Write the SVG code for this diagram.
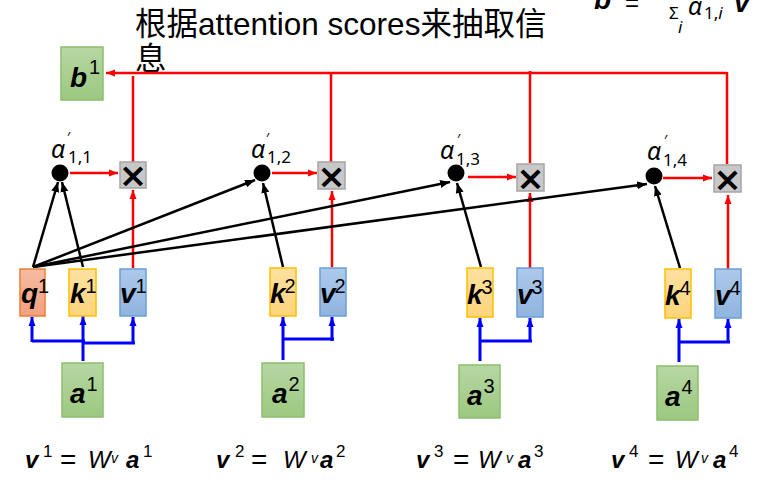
<svg xmlns="http://www.w3.org/2000/svg" width="762" height="485" viewBox="0 0 762 485">
<style>
.lbl{font-family:"Liberation Sans",Arial,sans-serif;font-weight:bold;font-style:italic;font-size:28px;fill:#000}
.sup{font-family:"Liberation Sans",Arial,sans-serif;font-weight:normal;font-style:normal;font-size:20px;fill:#000}
.eq{font-family:"Liberation Sans",Arial,sans-serif;font-size:24px;fill:#000}
.bi{font-weight:bold;font-style:italic}
.it{font-style:italic}
.al{font-family:"Noto Sans","DejaVu Sans",sans-serif;font-style:italic;font-size:25px;fill:#000}
.sub{font-family:"Noto Sans","DejaVu Sans",sans-serif;font-size:17px;fill:#000}
.pr{font-family:"Noto Sans","DejaVu Sans",sans-serif;font-size:14px;fill:#000}
.title{font-family:"Liberation Sans",Arial,"Noto Sans CJK SC",sans-serif;font-size:31.5px;fill:#000}
.mul{font-family:"DejaVu Sans",sans-serif;font-weight:bold;font-size:34px;fill:#000}
.gbox{fill:url(#gG);stroke:#8cbf6e;stroke-width:1.5}
.qbox{fill:url(#gQ);stroke:#ed7d31;stroke-width:1.5}
.kbox{fill:url(#gK);stroke:#ffc000;stroke-width:1.5}
.vbox{fill:url(#gV);stroke:#6a9fd4;stroke-width:1.5}
.xbox{fill:#c8c8c8;stroke:#a5a5a5;stroke-width:1.5}
.red{stroke:#ff0000;fill:none;stroke-width:2.5}
.blk{stroke:#000;fill:none;stroke-width:2.5}
.blu{stroke:#0000ff;fill:none;stroke-width:3}
</style>
<defs>
<linearGradient id="gG" x1="0" y1="0" x2="0" y2="1"><stop offset="0" stop-color="#b7d7a3"/><stop offset="1" stop-color="#9cc880"/></linearGradient>
<linearGradient id="gQ" x1="0" y1="0" x2="0" y2="1"><stop offset="0" stop-color="#f6bca3"/><stop offset="1" stop-color="#f2a07f"/></linearGradient>
<linearGradient id="gK" x1="0" y1="0" x2="0" y2="1"><stop offset="0" stop-color="#ffe1a0"/><stop offset="1" stop-color="#ffd47b"/></linearGradient>
<linearGradient id="gV" x1="0" y1="0" x2="0" y2="1"><stop offset="0" stop-color="#adc9ea"/><stop offset="1" stop-color="#90b4df"/></linearGradient>
<marker id="aR" markerUnits="userSpaceOnUse" markerWidth="10" markerHeight="8" refX="9" refY="4" orient="auto"><path d="M0,0.5 L9,4 L0,7.5 Z" fill="#ff0000"/></marker>
<marker id="aK" markerUnits="userSpaceOnUse" markerWidth="11" markerHeight="9" refX="10" refY="4.5" orient="auto"><path d="M0,0.5 L10,4.5 L0,8.5 Z" fill="#000"/></marker>
<marker id="aB" markerUnits="userSpaceOnUse" markerWidth="10" markerHeight="8" refX="9" refY="4" orient="auto"><path d="M0,0.5 L9,4 L0,7.5 Z" fill="#0000ff"/></marker>
</defs>

<rect width="762" height="485" fill="#fff"/>

<!-- title -->
<text class="title" x="135" y="35">根据attention scores来抽取信</text>
<text class="title" x="135" y="70">息</text>

<!-- top-right formula (cropped at the top edge) -->
<g id="formula">
<text class="lbl" x="594" y="9" font-size="26">b</text>
<text class="eq" x="625" y="11" font-size="28">=</text>
<text class="sub" x="669" y="19" font-size="22">Σ</text>
<text class="sub" x="678" y="33" font-size="15" font-style="italic">i</text>
<text class="al" x="688" y="15">α</text>
<text class="sub" x="704" y="19" font-size="18">1,<tspan font-style="italic">i</tspan></text>
<text class="lbl" x="734" y="12">v</text>
</g>

<!-- connectors -->
<g id="connectors">
<path class="red" d="M727,73 H106" marker-end="url(#aR)"/>
<path class="red" d="M133,162 V76" stroke-width="2.2"/>
<path class="red" d="M331,162 V72" stroke-width="3.5"/>
<path class="red" d="M530,163 V71" stroke-width="2.6"/>
<path class="red" d="M727,164 V72" stroke-width="2.8"/>
<path class="red" d="M70,173 H118" stroke-width="2.2" marker-end="url(#aR)"/>
<path class="red" d="M272,173 H317" stroke-width="2.2" marker-end="url(#aR)"/>
<path class="red" d="M468,177 H516" stroke-width="2.2" marker-end="url(#aR)"/>
<path class="red" d="M663,178 H712" stroke-width="2.2" marker-end="url(#aR)"/>
<path class="red" d="M133,268 V190" stroke-width="2.2" marker-end="url(#aR)"/>
<path class="red" d="M332,267 V191" stroke-width="2.2" marker-end="url(#aR)"/>
<path class="red" d="M530,268 V193" stroke-width="2.2" marker-end="url(#aR)"/>
<path class="red" d="M728,269 V195" stroke-width="2.2" marker-end="url(#aR)"/>
<path class="blk" d="M33,267 L58,182" marker-end="url(#aK)"/>
<path class="blk" d="M83,267 L62,182" marker-end="url(#aK)"/>
<path class="blk" d="M33,267 L255,180" marker-end="url(#aK)"/>
<path class="blk" d="M33,267 L450,182" marker-end="url(#aK)"/>
<path class="blk" d="M33,267 L647,184" marker-end="url(#aK)"/>
<path class="blk" d="M283,267 L263,183" marker-end="url(#aK)"/>
<path class="blk" d="M481,267 L457,183" marker-end="url(#aK)"/>
<path class="blk" d="M680,268 L655,186" marker-end="url(#aK)"/>
<path class="blu" d="M83,361 V316" marker-end="url(#aB)"/>
<path class="blu" d="M32,341 H85"/>
<path class="blu" d="M82,343 H135"/>
<path class="blu" d="M32,342 V317" marker-end="url(#aB)"/>
<path class="blu" d="M133,344 V317" marker-end="url(#aB)"/>
<path class="blu" d="M283,360 V317" marker-end="url(#aB)"/>
<path class="blu" d="M283,339 H334" stroke-width="4.5"/>
<path class="blu" d="M332,341 V317" marker-end="url(#aB)"/>
<path class="blu" d="M480,361 V318" marker-end="url(#aB)"/>
<path class="blu" d="M480,341 H532" stroke-width="3.5"/>
<path class="blu" d="M530,342 V318" marker-end="url(#aB)"/>
<path class="blu" d="M679,362 V319" marker-end="url(#aB)"/>
<path class="blu" d="M679,342 H730" stroke-width="3.5"/>
<path class="blu" d="M728,343 V319" marker-end="url(#aB)"/>
</g>

<g id="b1"><rect class="gbox" x="61" y="47" width="42" height="53"/><text class="lbl" x="70" y="87">b<tspan class="sup" dx="2" dy="-13">1</tspan></text></g>

<g id="q1"><rect class="qbox" x="20" y="269" width="25" height="47"/><text class="lbl" x="21" y="303">q<tspan class="sup" dx="0" dy="-10">1</tspan></text></g>
<g id="k1"><rect class="kbox" x="69" y="269" width="27" height="47"/><text class="lbl" x="70" y="303">k<tspan class="sup" dx="0" dy="-10">1</tspan></text></g>
<g id="v1"><rect class="vbox" x="120" y="269" width="26" height="47"/><text class="lbl" x="120" y="303">v<tspan class="sup" dx="0" dy="-10">1</tspan></text></g>
<g id="k2"><rect class="kbox" x="270" y="268" width="26" height="48"/><text class="lbl" x="270" y="303">k<tspan class="sup" dx="-1" dy="-10">2</tspan></text></g>
<g id="v2"><rect class="vbox" x="320" y="268" width="26" height="48"/><text class="lbl" x="320" y="303">v<tspan class="sup" dx="-1" dy="-10">2</tspan></text></g>
<g id="k3"><rect class="kbox" x="467" y="268" width="26" height="49"/><text class="lbl" x="467" y="304">k<tspan class="sup" dx="-1" dy="-10">3</tspan></text></g>
<g id="v3"><rect class="vbox" x="517" y="268" width="26" height="49"/><text class="lbl" x="517" y="304">v<tspan class="sup" dx="-1" dy="-10">3</tspan></text></g>
<g id="k4"><rect class="kbox" x="665" y="269" width="26" height="49"/><text class="lbl" x="665" y="305">k<tspan class="sup" dx="-1" dy="-10">4</tspan></text></g>
<g id="v4"><rect class="vbox" x="715" y="269" width="26" height="49"/><text class="lbl" x="715" y="305">v<tspan class="sup" dx="-1" dy="-10">4</tspan></text></g>

<g id="a1"><rect class="gbox" x="62" y="363" width="41" height="54"/><text class="lbl" x="70" y="403">a<tspan class="sup" dx="1" dy="-12">1</tspan></text></g>
<g id="a2"><rect class="gbox" x="262" y="363" width="42" height="54"/><text class="lbl" x="272" y="403">a<tspan class="sup" dx="1" dy="-12">2</tspan></text></g>
<g id="a3"><rect class="gbox" x="459" y="365" width="41" height="53"/><text class="lbl" x="467" y="405">a<tspan class="sup" dx="1" dy="-12">3</tspan></text></g>
<g id="a4"><rect class="gbox" x="657" y="366" width="41" height="54"/><text class="lbl" x="665" y="406">a<tspan class="sup" dx="1" dy="-12">4</tspan></text></g>

<g id="d1"><circle cx="60" cy="173" r="8.5"/><text class="al" x="51" y="158">α</text><text class="pr" x="67" y="142">′</text><text class="sub" x="68" y="163">1,1</text></g>
<g id="d2"><circle cx="262" cy="173" r="8.5"/><text class="al" x="251" y="158">α</text><text class="pr" x="266" y="143">′</text><text class="sub" x="267" y="163">1,2</text></g>
<g id="d3"><circle cx="456" cy="173" r="8.5"/><text class="al" x="440" y="159">α</text><text class="pr" x="457" y="144">′</text><text class="sub" x="456" y="165">1,3</text></g>
<g id="d4"><circle cx="654" cy="176" r="8.5"/><text class="al" x="647" y="160">α</text><text class="pr" x="664" y="145">′</text><text class="sub" x="663" y="166">1,4</text></g>

<g id="m1"><rect class="xbox" x="120" y="162" width="26" height="26"/><text class="mul" x="133" y="187" text-anchor="middle">×</text></g>
<g id="m2"><rect class="xbox" x="318" y="162" width="27" height="27"/><text class="mul" x="331.5" y="188" text-anchor="middle">×</text></g>
<g id="m3"><rect class="xbox" x="517" y="164" width="27" height="27"/><text class="mul" x="530.5" y="190" text-anchor="middle">×</text></g>
<g id="m4"><rect class="xbox" x="714" y="165" width="27" height="27"/><text class="mul" x="727.5" y="191" text-anchor="middle">×</text></g>

<g id="eq1"><text class="eq" y="468"><tspan class="bi" x="25">v</tspan><tspan x="43" y="457" font-size="17">1</tspan><tspan x="60" y="469" font-size="28">=</tspan><tspan class="it" x="88" y="468">W</tspan><tspan class="it" x="111" y="463" font-size="14">v</tspan><tspan class="bi" x="126" y="468">a</tspan><tspan x="143" y="457" font-size="17">1</tspan></text></g>
<g id="eq2"><text class="eq" y="468"><tspan class="bi" x="216">v</tspan><tspan x="235" y="457" font-size="17">2</tspan><tspan x="251" y="469" font-size="28">=</tspan><tspan class="it" x="283" y="468">W</tspan><tspan class="it" x="311" y="463" font-size="14">v</tspan><tspan class="bi" x="320" y="468">a</tspan><tspan x="336" y="457" font-size="17">2</tspan></text></g>
<g id="eq3"><text class="eq" y="468"><tspan class="bi" x="416">v</tspan><tspan x="434" y="457" font-size="17">3</tspan><tspan x="453" y="469" font-size="28">=</tspan><tspan class="it" x="478" y="468">W</tspan><tspan class="it" x="506" y="463" font-size="14">v</tspan><tspan class="bi" x="518" y="468">a</tspan><tspan x="534" y="457" font-size="17">3</tspan></text></g>
<g id="eq4"><text class="eq" y="468"><tspan class="bi" x="611">v</tspan><tspan x="629" y="457" font-size="17">4</tspan><tspan x="648" y="469" font-size="28">=</tspan><tspan class="it" x="675" y="468">W</tspan><tspan class="it" x="701" y="463" font-size="14">v</tspan><tspan class="bi" x="713" y="468">a</tspan><tspan x="729" y="457" font-size="17">4</tspan></text></g>
</svg>
